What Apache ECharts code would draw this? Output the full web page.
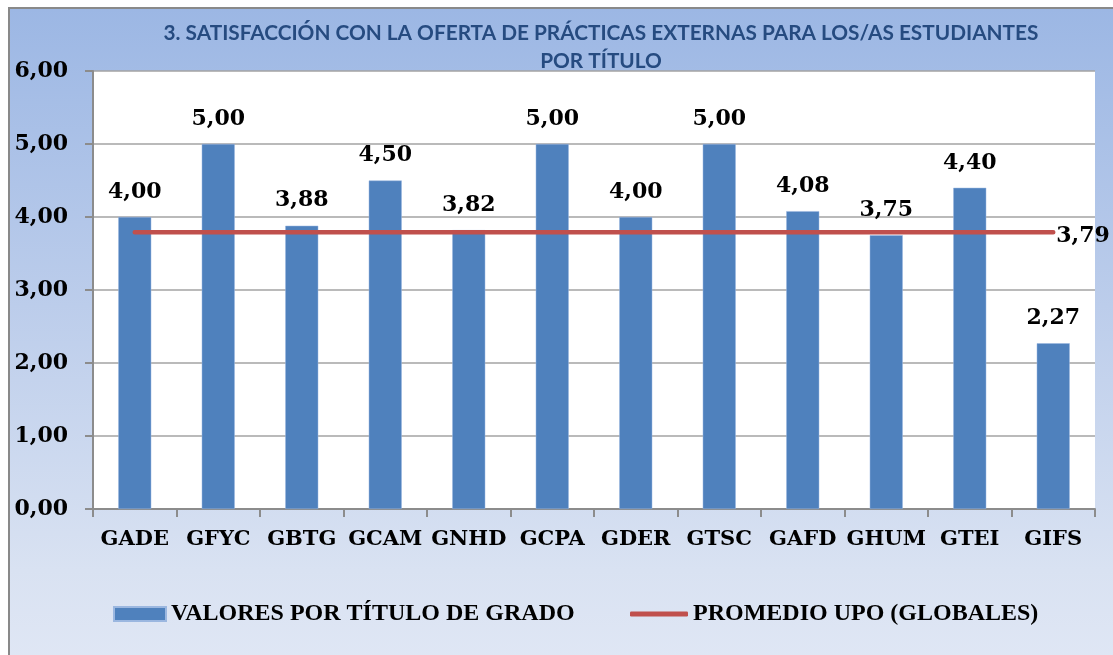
<!DOCTYPE html>
<html>
<head>
<meta charset="utf-8">
<script src="https://cdn.jsdelivr.net/npm/echarts@6/dist/echarts.min.js"></script>
<style>
  html, body { margin: 0; padding: 0; background: #ffffff; overflow: hidden; }
  #frame {
    position: absolute; left: 8px; top: 7px; width: 1120px; height: 660px;
    border-left: 2px solid #898989; border-top: 2px solid #898989;
    background: linear-gradient(to bottom, #9cb7e4 0%, #bccdeb 45%, #d9e2f2 85%, #e0e7f5 100%);
  }
  #chart { position: absolute; left: 0; top: 0; width: 1113px; height: 655px; }
</style>
</head>
<body>
<div id="frame"></div>
<div id="chart"></div>
<script>
const categories = ['GADE', 'GFYC', 'GBTG', 'GCAM', 'GNHD', 'GCPA', 'GDER', 'GTSC', 'GAFD', 'GHUM', 'GTEI', 'GIFS'];
const valoresGrado = [4.00, 5.00, 3.88, 4.50, 3.82, 5.00, 4.00, 5.00, 4.08, 3.75, 4.40, 2.27];
const promedioUPO = [3.79, 3.79, 3.79, 3.79, 3.79, 3.79, 3.79, 3.79, 3.79, 3.79, 3.79, 3.79];
const yTicks = { min: 0, max: 6, interval: 1 };
const titleLines = ['3. SATISFACCIÓN CON LA OFERTA DE PRÁCTICAS EXTERNAS PARA LOS/AS ESTUDIANTES', 'POR TÍTULO'];
const seriesNames = ['VALORES POR TÍTULO DE GRADO', 'PROMEDIO UPO (GLOBALES)'];

const fmt = v => Number(v).toFixed(2).replace('.', ',');
const serif = 'DejaVu Serif';

const chart = echarts.init(document.getElementById('chart'), null, { renderer: 'canvas' });
chart.setOption({
  backgroundColor: 'transparent',
  animation: false,
  title: {
    text: titleLines.join('\n'),
    left: 596, textAlign: 'center', top: 14,
    textStyle: { fontFamily: 'Lato', fontWeight: 'bold', fontSize: 20.8, color: '#264b80', lineHeight: 28 }
  },
  legend: [
    {
      data: [seriesNames[0]], left: 113, top: 602, padding: 0,
      itemWidth: 52, itemHeight: 14, icon: 'rect',
      textStyle: { fontFamily: 'Liberation Serif', fontWeight: 'bold', fontSize: 24, color: '#000' }
    },
    {
      data: [seriesNames[1]], left: 630, top: 602, padding: 0,
      itemWidth: 58, itemHeight: 5, icon: 'roundRect',
      textStyle: { fontFamily: 'Liberation Serif', fontWeight: 'bold', fontSize: 24, color: '#000' }
    }
  ],
  grid: {
    left: 93, top: 71, right: 18, bottom: 146,
    show: true, backgroundColor: '#ffffff', borderWidth: 0
  },
  xAxis: {
    type: 'category', data: categories,
    axisLine: { lineStyle: { color: '#8c8c8c', width: 2 } },
    axisTick: { show: true, length: 8, lineStyle: { color: '#8c8c8c', width: 2 } },
    axisLabel: { interval: 0, margin: 20, fontFamily: serif, fontWeight: 'bold', fontSize: 21, color: '#000' }
  },
  yAxis: {
    type: 'value', min: yTicks.min, max: yTicks.max, interval: yTicks.interval,
    axisLine: { show: true, lineStyle: { color: '#8c8c8c', width: 2 } },
    axisTick: { show: true, length: 8, lineStyle: { color: '#8c8c8c', width: 2 } },
    splitLine: { lineStyle: { color: '#a3a3a3', width: 1.5 } },
    axisLabel: { margin: 25, formatter: fmt, fontFamily: serif, fontWeight: 'bold', fontSize: 22, color: '#000' }
  },
  series: [
    {
      name: seriesNames[0], type: 'bar', data: valoresGrado,
      barWidth: 33,
      itemStyle: { color: '#4f81bd', borderColor: '#9bb7e0', borderWidth: 0.5 },
      label: {
        show: true, position: 'top', distance: 14, formatter: p => fmt(p.value),
        fontFamily: serif, fontWeight: 'bold', fontSize: 22, color: '#000'
      }
    },
    {
      name: seriesNames[1], type: 'line', data: promedioUPO,
      symbol: 'none', showSymbol: false,
      itemStyle: { color: '#c0504d' },
      lineStyle: { color: '#c0504d', width: 4.5, cap: 'round' },
      endLabel: {
        show: true, distance: 3, formatter: p => fmt(p.value),
        fontFamily: serif, fontWeight: 'bold', fontSize: 22, color: '#000', offset: [0, 4]
      },
      z: 5
    }
  ]
});
</script>
</body>
</html>
